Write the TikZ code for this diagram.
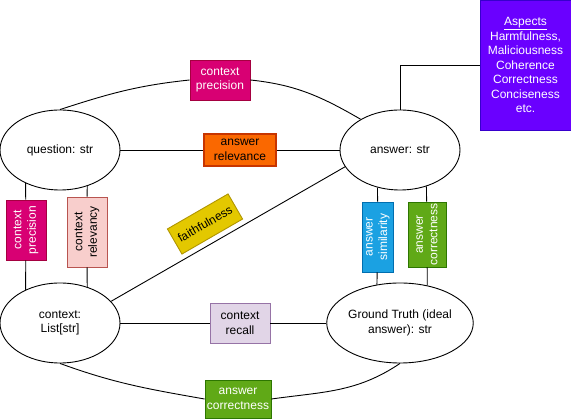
\documentclass[tikz,border=0pt]{standalone}
\usepackage{fontspec}
\setmainfont{Liberation Sans}
\usepackage{tikz}
\usetikzlibrary{shapes.geometric}

\definecolor{precfill}{HTML}{D80073}
\definecolor{precdraw}{HTML}{A50040}
\definecolor{relefill}{HTML}{FA6800}
\definecolor{reledraw}{HTML}{C73500}
\definecolor{relyfill}{HTML}{F8CECC}
\definecolor{relydraw}{HTML}{B85450}
\definecolor{faithfill}{HTML}{E3C800}
\definecolor{faithdraw}{HTML}{B09500}
\definecolor{aspfill}{HTML}{6A00FF}
\definecolor{aspdraw}{HTML}{3700CC}
\definecolor{simfill}{HTML}{1BA1E2}
\definecolor{simdraw}{HTML}{006EAF}
\definecolor{corrfill}{HTML}{60A917}
\definecolor{corrdraw}{HTML}{2D7600}
\definecolor{recfill}{HTML}{E1D5E7}
\definecolor{recdraw}{HTML}{9673A6}

\begin{document}
\begin{tikzpicture}[x = 1pt, y = -1pt, line width = 0.9pt,
  every node/.style = {font = \fontsize{12}{14.5}\selectfont, align = center},
  blob/.style = {ellipse, draw, minimum width = 120pt, minimum height = 80pt, inner sep = 0pt},
  metric/.style = {rectangle, draw, inner sep = 0pt},
  upright/.style = {metric, rotate = 90}]

\useasboundingbox (0, 0) rectangle (571, 419);

\node (question) at (60, 150) [blob] {question: str};
\node (answer) at (400, 150) [blob] {answer: str};
\node (context) at (60, 323) [blob] {context:\\List[str]};
\node (truth) at (400, 323) [blob] {Ground Truth (ideal\\answer): str};

\node (precTop) at (220, 80) [metric, fill = precfill, draw = precdraw, text = white, minimum width = 60pt, minimum height = 40pt] {context\\precision};
\node (relevance) at (240, 150) [metric, fill = relefill, draw = reledraw, line width = 1.8pt, minimum width = 72pt, minimum height = 32pt] {answer\\relevance};
\node (precSide) at (26, 230) [upright, fill = precfill, draw = precdraw, text = white, minimum width = 60pt, minimum height = 40pt] {context\\precision};
\node (relevancy) at (87, 232) [upright, fill = relyfill, draw = relydraw, minimum width = 70pt, minimum height = 40pt] {context\\relevancy};
\node (faith) at (205, 224) [metric, rotate = 30, fill = faithfill, draw = faithdraw, minimum width = 70pt, minimum height = 29pt] {faithfulness};
\node (similarity) at (378, 237) [upright, fill = simfill, draw = simdraw, text = white, minimum width = 70pt, minimum height = 31pt] {answer\\similarity};
\node (corrSide) at (427, 234.5) [upright, fill = corrfill, draw = corrdraw, text = white, minimum width = 65pt, minimum height = 38pt] {answer\\correctness};
\node (recall) at (240, 323) [metric, fill = recfill, draw = recdraw, minimum width = 60pt, minimum height = 40pt] {context\\recall};
\node (corrBottom) at (238, 399) [metric, fill = corrfill, draw = corrdraw, text = white, minimum width = 66pt, minimum height = 38pt] {answer\\correctness};
\node (aspects) at (525.5, 65) [metric, fill = aspfill, draw = aspdraw, text = white, minimum width = 91pt, minimum height = 130pt] {\underline{Aspects}\\Harmfulness,\\Maliciousness\\Coherence\\Correctness\\Conciseness\\etc.};

\draw (question.north) to[out = 18, in = 186] (precTop.west);
\draw (precTop.east) to[out = -6, in = 150] (answer.142);
\draw (question.east) -- (relevance.west);
\draw (relevance.east) -- (answer.west);

\draw (question.224) -- (precSide);
\draw (precSide) -- (context.136);
\draw (question.307) -- (relevancy);
\draw (relevancy) -- (context.53);

\draw (context.23) -- (answer.197);

\draw (answer.239) -- (similarity);
\draw (similarity) -- (truth.121);
\draw (answer.306) -- (corrSide);
\draw (corrSide) -- (truth.54);
\draw (answer.north) |- (aspects.west);

\draw (context.east) -- (recall.west);
\draw (recall.east) -- (truth.west);
\draw (context.south) to[out = -20, in = 170] (corrBottom.west);
\draw (corrBottom.east) to[out = 8, in = 214] (truth.south);

\end{tikzpicture}
\end{document}
